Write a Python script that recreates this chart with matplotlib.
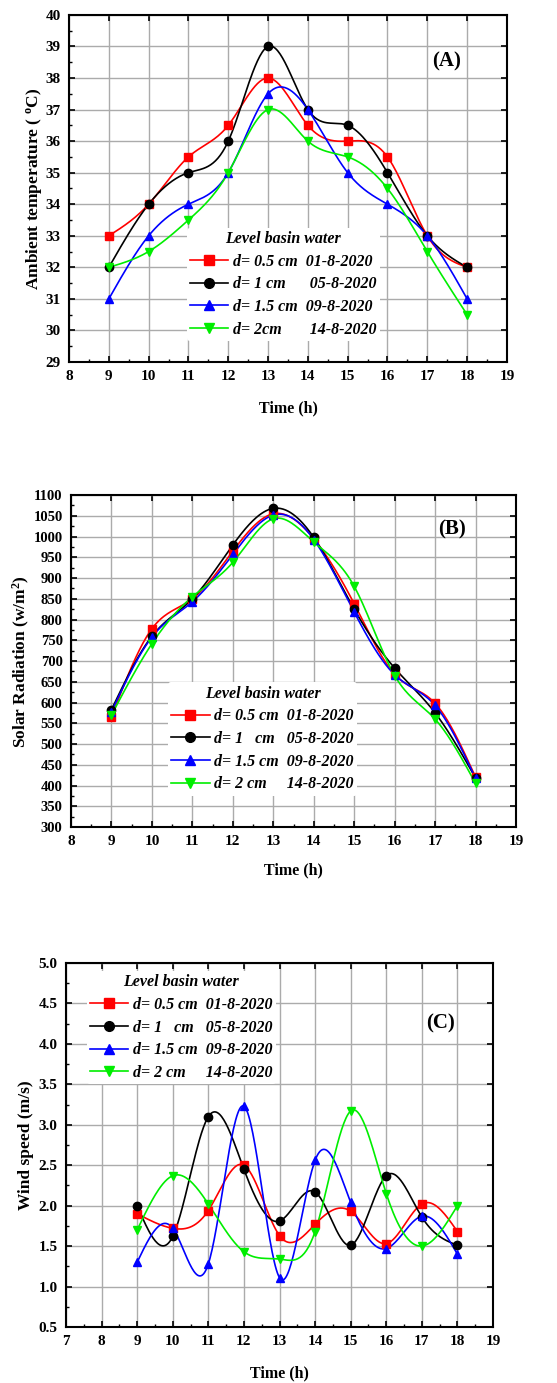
import matplotlib
matplotlib.use("Agg")
import matplotlib.pyplot as plt
import numpy as np
from matplotlib.ticker import MultipleLocator, FormatStrFormatter

plt.rcParams['font.family'] = ['Liberation Serif', 'DejaVu Serif']
plt.rcParams['font.weight'] = 'bold'
plt.rcParams['mathtext.fontset'] = 'custom'
plt.rcParams['mathtext.rm'] = 'Liberation Serif:bold'
plt.rcParams['mathtext.it'] = 'Liberation Serif:bold:italic'

# ---- data ----
hours = [9, 10, 11, 12, 13, 14, 15, 16, 17, 18]

temp_05 = [33, 34, 35.5, 36.5, 38, 36.5, 36, 35.5, 33, 32]
temp_1 = [32, 34, 35, 36, 39, 37, 36.5, 35, 33, 32]
temp_15 = [31, 33, 34, 35, 37.5, 37, 35, 34, 33, 31]
temp_2 = [32, 32.5, 33.5, 35, 37, 36, 35.5, 34.5, 32.5, 30.5]

rad_05 = [565, 778, 850, 965, 1055, 995, 838, 668, 598, 420]
rad_1 = [583, 760, 850, 980, 1068, 998, 825, 683, 575, 418]
rad_15 = [578, 758, 843, 957, 1052, 993, 818, 667, 593, 417]
rad_2 = [570, 742, 855, 938, 1043, 987, 880, 665, 560, 405]

wind_05 = [1.90, 1.72, 1.94, 2.50, 1.63, 1.77, 1.93, 1.53, 2.02, 1.68]
wind_1 = [2.00, 1.62, 3.10, 2.45, 1.81, 2.17, 1.51, 2.37, 1.86, 1.51]
wind_15 = [1.30, 1.72, 1.28, 3.23, 1.11, 2.56, 2.04, 1.47, 1.87, 1.40]
wind_2 = [1.70, 2.37, 2.02, 1.43, 1.34, 1.68, 3.17, 2.15, 1.50, 2.00]

labels_a = ["d= 0.5 cm  01-8-2020", "d= 1 cm      05-8-2020",
            "d= 1.5 cm  09-8-2020", "d= 2cm       14-8-2020"]
labels_bc = ["d= 0.5 cm  01-8-2020", "d= 1   cm   05-8-2020",
             "d= 1.5 cm  09-8-2020", "d= 2 cm     14-8-2020"]

colors = ['#ff0000', '#000000', '#0000ff', '#00ee00']
markers = ['s', 'o', '^', 'v']


def spline(x, y, n=300):
    # natural cubic spline through the points (smooth line like Origin)
    x = np.asarray(x, float)
    y = np.asarray(y, float)
    k = len(x)
    h = np.diff(x)
    A = np.zeros((k, k))
    r = np.zeros(k)
    A[0, 0] = A[-1, -1] = 1
    for i in range(1, k - 1):
        A[i, i - 1] = h[i - 1]
        A[i, i] = 2 * (h[i - 1] + h[i])
        A[i, i + 1] = h[i]
        r[i] = 3 * ((y[i + 1] - y[i]) / h[i] - (y[i] - y[i - 1]) / h[i - 1])
    c = np.linalg.solve(A, r)
    b = (y[1:] - y[:-1]) / h - h * (2 * c[:-1] + c[1:]) / 3
    d = (c[1:] - c[:-1]) / (3 * h)
    xs = np.linspace(x[0], x[-1], n)
    idx = np.clip(np.searchsorted(x, xs) - 1, 0, k - 2)
    t = xs - x[idx]
    ys = y[idx] + b[idx] * t + c[idx] * t ** 2 + d[idx] * t ** 3
    return xs, ys


def draw(ax, series, labels):
    for ys, lab, col, mk in zip(series, labels, colors, markers):
        sx, sy = spline(hours, ys)
        ax.plot(sx, sy, color=col, lw=1.2, zorder=3)
        ax.plot(hours, ys, linestyle='none', marker=mk, color=col, ms=6, zorder=4)
        ax.plot([], [], color=col, lw=1.2, marker=mk, ms=7, label=lab)


def style(ax):
    ax.grid(True, color='#ababab', lw=1.0, zorder=0)
    ax.set_axisbelow(True)
    ax.tick_params(which='both', direction='in', top=True, right=True, labelsize=11)
    ax.tick_params(which='major', length=4, width=1.2, pad=6)
    ax.tick_params(which='minor', length=2.5, width=1.0, top=False, right=False)
    for s in ax.spines.values():
        s.set_linewidth(1.5)
    for lab in ax.get_xticklabels() + ax.get_yticklabels():
        lab.set_fontweight('bold')


def legend(ax, anchor):
    leg = ax.legend(loc='upper left', bbox_to_anchor=anchor, frameon=True,
                    facecolor='white', edgecolor='none', framealpha=1,
                    title='Level basin water', handlelength=2.4,
                    labelspacing=0.42, borderpad=0.2, handletextpad=0.3,
                    prop={'size': 11.5, 'weight': 'bold', 'style': 'italic'},
                    title_fontproperties={'size': 11.5, 'weight': 'bold', 'style': 'italic'})
    leg.set_zorder(5)


fig = plt.figure(figsize=(5.57, 13.83), dpi=100)

# ===== (A) ambient temperature =====
ax1 = fig.add_axes([0.124, 0.7383, 0.786, 0.2509])
draw(ax1, [temp_05, temp_1, temp_15, temp_2], labels_a)
ax1.set_xlim(8, 19)
ax1.set_ylim(29, 40)
ax1.xaxis.set_major_locator(MultipleLocator(1))
ax1.xaxis.set_minor_locator(MultipleLocator(0.5))
ax1.yaxis.set_major_locator(MultipleLocator(1))
ax1.yaxis.set_minor_locator(MultipleLocator(0.5))
style(ax1)
ax1.set_xlabel('Time (h)', fontsize=11.5, fontweight='bold', labelpad=12)
ax1.set_ylabel('Ambient temperature ( $^{\\mathrm{o}}$C)', fontsize=12.5,
               fontweight='bold', labelpad=1)
ax1.text(0.863, 0.865, '(A)', transform=ax1.transAxes, fontsize=15,
         fontweight='bold', ha='center', va='center')
legend(ax1, (0.25, 0.41))

# ===== (B) solar radiation =====
ax2 = fig.add_axes([0.1275, 0.402, 0.799, 0.240])
draw(ax2, [rad_05, rad_1, rad_15, rad_2], labels_bc)
ax2.set_xlim(8, 19)
ax2.set_ylim(300, 1100)
ax2.xaxis.set_major_locator(MultipleLocator(1))
ax2.xaxis.set_minor_locator(MultipleLocator(0.5))
ax2.yaxis.set_major_locator(MultipleLocator(50))
ax2.yaxis.set_minor_locator(MultipleLocator(25))
style(ax2)
ax2.tick_params(axis='y', labelsize=10.5)
ax2.set_xlabel('Time (h)', fontsize=11.5, fontweight='bold', labelpad=10)
ax2.set_ylabel('Solar Radiation (w/m$^{\\mathrm{2}}$)', fontsize=12.5,
               fontweight='bold', labelpad=1)
ax2.text(0.856, 0.895, '(B)', transform=ax2.transAxes, fontsize=15,
         fontweight='bold', ha='center', va='center')
legend(ax2, (0.2, 0.46))

# ===== (C) wind speed =====
ax3 = fig.add_axes([0.1185, 0.0405, 0.7666, 0.2632])
draw(ax3, [wind_05, wind_1, wind_15, wind_2], labels_bc)
ax3.set_xlim(7, 19)
ax3.set_ylim(0.5, 5.0)
ax3.xaxis.set_major_locator(MultipleLocator(1))
ax3.xaxis.set_minor_locator(MultipleLocator(0.5))
ax3.yaxis.set_major_locator(MultipleLocator(0.5))
ax3.yaxis.set_minor_locator(MultipleLocator(0.25))
ax3.yaxis.set_major_formatter(FormatStrFormatter('%.1f'))
style(ax3)
ax3.set_xlabel('Time (h)', fontsize=11.5, fontweight='bold', labelpad=12)
ax3.set_ylabel('Wind speed (m/s)', fontsize=12.5, fontweight='bold', labelpad=3)
ax3.text(0.878, 0.835, '(C)', transform=ax3.transAxes, fontsize=15,
         fontweight='bold', ha='center', va='center')
legend(ax3, (0.03, 1.0))

fig.savefig('out.png', dpi=100)
